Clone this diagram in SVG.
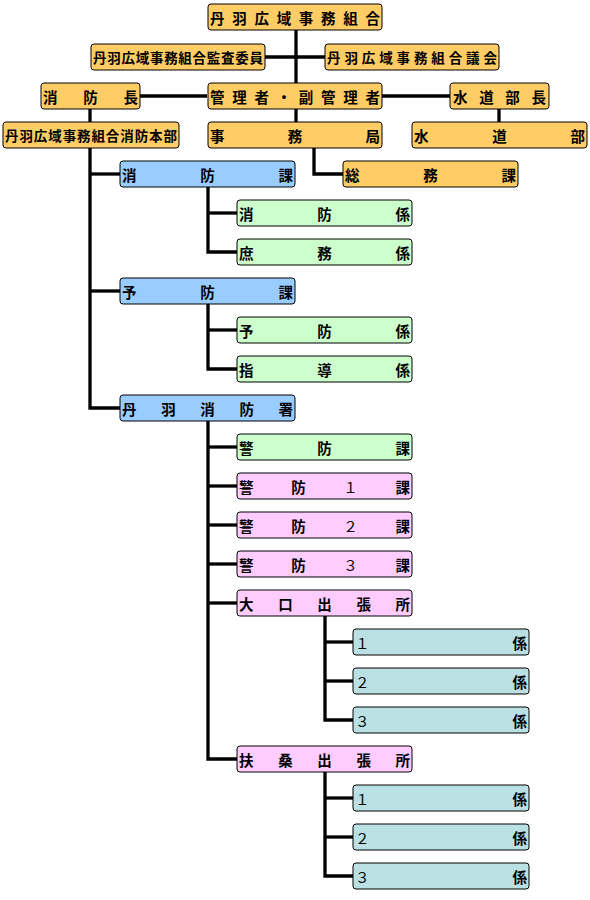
<svg xmlns="http://www.w3.org/2000/svg" width="590" height="900" viewBox="0 0 590 900">
<style>
rect{stroke:#000;stroke-width:1;rx:3px;ry:3px}
.o{fill:#FFCC66}.b{fill:#99CCFF}.g{fill:#CCFFCC}.p{fill:#FFCCFF}.t{fill:#BBE0E3}
text{font-family:"Noto Sans CJK JP","Noto Sans CJK SC",sans-serif;font-weight:700;font-size:14.5px;fill:#000}
.s{font-size:13.5px}
.d{font-weight:400}
#connectors line,#connectors polyline{stroke:#000;stroke-width:3.3;fill:none}
</style>
<rect width="590" height="900" fill="#fff" style="stroke:none"/>
<g id="connectors">
<line x1="296" y1="30" x2="296" y2="122"/>
<line x1="265" y1="57" x2="325" y2="57"/>
<line x1="140" y1="96" x2="207" y2="96"/>
<line x1="382" y1="96" x2="450" y2="96"/>
<line x1="90" y1="109" x2="90" y2="122"/>
<line x1="499" y1="109" x2="499" y2="122"/>
<polyline points="314,148 314,174 343,174"/>
<polyline points="90,148 90,408 120,408"/>
<line x1="90" y1="174" x2="120" y2="174"/>
<line x1="90" y1="291" x2="120" y2="291"/>
<polyline points="208,187 208,252 237,252"/>
<line x1="208" y1="213" x2="237" y2="213"/>
<polyline points="208,304 208,369 237,369"/>
<line x1="208" y1="330" x2="237" y2="330"/>
<polyline points="208,421 208,759 237,759"/>
<line x1="208" y1="447" x2="237" y2="447"/>
<line x1="208" y1="486" x2="237" y2="486"/>
<line x1="208" y1="525" x2="237" y2="525"/>
<line x1="208" y1="564" x2="237" y2="564"/>
<line x1="208" y1="603" x2="237" y2="603"/>
<polyline points="325,616 325,720 353,720"/>
<line x1="325" y1="642" x2="353" y2="642"/>
<line x1="325" y1="681" x2="353" y2="681"/>
<polyline points="325,772 325,876 353,876"/>
<line x1="325" y1="798" x2="353" y2="798"/>
<line x1="325" y1="837" x2="353" y2="837"/>
</g>
<g id="n_top"><rect class="o" x="208" y="4" width="174" height="26"/><text x="210" y="24" textLength="170" lengthAdjust="spacing">丹羽広域事務組合</text></g>
<g id="n_kansa"><rect class="o" x="91" y="44" width="174" height="26"/><text class="s" x="93" y="63" textLength="170" lengthAdjust="spacing">丹羽広域事務組合監査委員</text></g>
<g id="n_gikai"><rect class="o" x="325" y="44" width="174" height="26"/><text class="s" x="327" y="63" textLength="170" lengthAdjust="spacing">丹羽広域事務組合議会</text></g>
<g id="n_shochou"><rect class="o" x="41" y="83" width="99" height="26"/><text x="43" y="103" textLength="95" lengthAdjust="spacing">消防長</text></g>
<g id="n_kanri"><rect class="o" x="208" y="83" width="174" height="26"/><text x="210" y="103" textLength="170" lengthAdjust="spacing">管理者・副管理者</text></g>
<g id="n_suidouchou"><rect class="o" x="450" y="83" width="99" height="26"/><text x="453" y="103" textLength="93" lengthAdjust="spacing">水道部長</text></g>
<g id="n_honbu"><rect class="o" x="3" y="122" width="176" height="26"/><text class="s" x="5" y="141" textLength="172" lengthAdjust="spacing">丹羽広域事務組合消防本部</text></g>
<g id="n_jimukyoku"><rect class="o" x="208" y="122" width="174" height="26"/><text x="210" y="142" textLength="170" lengthAdjust="spacing">事務局</text></g>
<g id="n_suidoubu"><rect class="o" x="412" y="122" width="175" height="26"/><text x="414" y="142" textLength="171" lengthAdjust="spacing">水道部</text></g>
<g id="n_soumu"><rect class="o" x="343" y="161" width="175" height="26"/><text x="345" y="181" textLength="171" lengthAdjust="spacing">総務課</text></g>
<g id="n_shoboka"><rect class="b" x="120" y="161" width="175" height="26"/><text x="122" y="181" textLength="171" lengthAdjust="spacing">消防課</text></g>
<g id="n_shobogakari"><rect class="g" x="237" y="200" width="175" height="26"/><text x="239" y="220" textLength="171" lengthAdjust="spacing">消防係</text></g>
<g id="n_shomu"><rect class="g" x="237" y="239" width="175" height="26"/><text x="239" y="259" textLength="171" lengthAdjust="spacing">庶務係</text></g>
<g id="n_yoboka"><rect class="b" x="120" y="278" width="175" height="26"/><text x="122" y="298" textLength="171" lengthAdjust="spacing">予防課</text></g>
<g id="n_yobogakari"><rect class="g" x="237" y="317" width="175" height="26"/><text x="239" y="337" textLength="171" lengthAdjust="spacing">予防係</text></g>
<g id="n_shidou"><rect class="g" x="237" y="356" width="175" height="26"/><text x="239" y="376" textLength="171" lengthAdjust="spacing">指導係</text></g>
<g id="n_shobosho"><rect class="b" x="120" y="395" width="175" height="26"/><text x="122" y="415" textLength="171" lengthAdjust="spacing">丹羽消防署</text></g>
<g id="n_keibo"><rect class="g" x="237" y="434" width="175" height="26"/><text x="239" y="454" textLength="171" lengthAdjust="spacing">警防課</text></g>
<g id="n_keibo1"><rect class="p" x="237" y="473" width="175" height="26"/><text x="239" y="493" textLength="171" lengthAdjust="spacing">警防<tspan class="d">１</tspan>課</text></g>
<g id="n_keibo2"><rect class="p" x="237" y="512" width="175" height="26"/><text x="239" y="532" textLength="171" lengthAdjust="spacing">警防<tspan class="d">２</tspan>課</text></g>
<g id="n_keibo3"><rect class="p" x="237" y="551" width="175" height="26"/><text x="239" y="571" textLength="171" lengthAdjust="spacing">警防<tspan class="d">３</tspan>課</text></g>
<g id="n_ooguchi"><rect class="p" x="237" y="590" width="175" height="26"/><text x="239" y="610" textLength="171" lengthAdjust="spacing">大口出張所</text></g>
<g id="n_oo1"><rect class="t" x="353" y="629" width="176" height="26"/><text x="355" y="649" textLength="172" lengthAdjust="spacing"><tspan class="d">１</tspan>係</text></g>
<g id="n_oo2"><rect class="t" x="353" y="668" width="176" height="26"/><text x="355" y="688" textLength="172" lengthAdjust="spacing"><tspan class="d">２</tspan>係</text></g>
<g id="n_oo3"><rect class="t" x="353" y="707" width="176" height="26"/><text x="355" y="727" textLength="172" lengthAdjust="spacing"><tspan class="d">３</tspan>係</text></g>
<g id="n_fusou"><rect class="p" x="237" y="746" width="175" height="26"/><text x="239" y="766" textLength="171" lengthAdjust="spacing">扶桑出張所</text></g>
<g id="n_fu1"><rect class="t" x="353" y="785" width="176" height="26"/><text x="355" y="805" textLength="172" lengthAdjust="spacing"><tspan class="d">１</tspan>係</text></g>
<g id="n_fu2"><rect class="t" x="353" y="824" width="176" height="26"/><text x="355" y="844" textLength="172" lengthAdjust="spacing"><tspan class="d">２</tspan>係</text></g>
<g id="n_fu3"><rect class="t" x="353" y="863" width="176" height="26"/><text x="355" y="883" textLength="172" lengthAdjust="spacing"><tspan class="d">３</tspan>係</text></g>
</svg>
